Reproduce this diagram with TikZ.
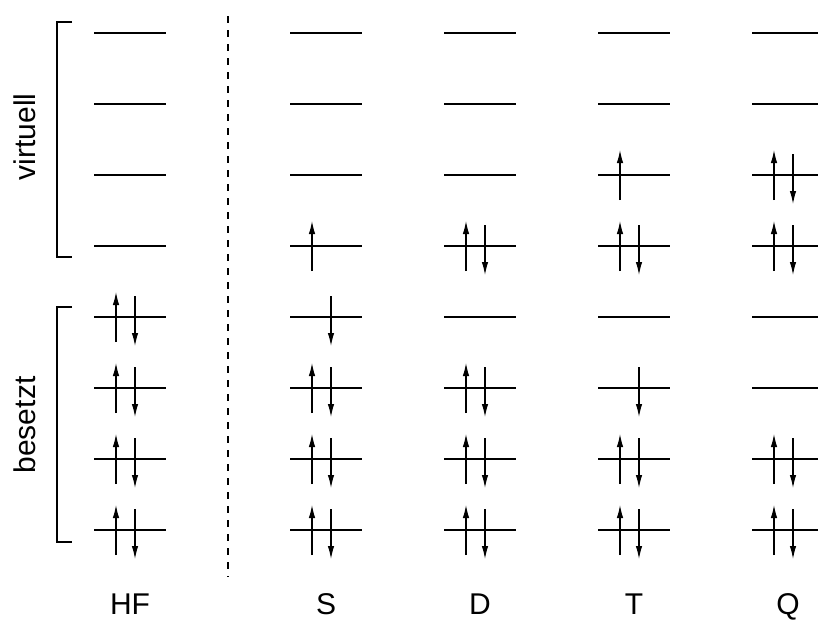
\documentclass[tikz,border=0pt]{standalone}
\usepackage{fontspec}
\setmainfont{Liberation Sans}
\usetikzlibrary{arrows.meta,calc}

% electron arrows at a level coordinate
\newcommand{\elup}[1]{\draw[spinup] ($(#1)+(-14,25)$) -- ($(#1)+(-14,-25)$);}
\newcommand{\eldown}[1]{\draw[spindown] ($(#1)+(5,-21)$) -- ($(#1)+(5,29)$);}

\begin{document}
\begin{tikzpicture}[
    x=1pt, y=-1pt,
    level/.style={line width=2pt},
    spinup/.style={-{Latex[length=13pt,width=6.5pt]}, line width=1.2pt},
    spindown/.style={-{Latex[length=13pt,width=6.5pt]}, line width=1.2pt},
    bracket/.style={line width=1.2pt},
    divider/.style={line width=2pt, dash pattern=on 7pt off 7pt},
    label/.style={font=\fontsize{30}{36}\selectfont, anchor=base, inner sep=0pt}
]

\useasboundingbox (0,0) rectangle (818,621);

% Level positions
\foreach \col/\x in {hf/130, s/326, d/480, t/634, q/788}{
    \foreach \i in {1,...,8}{
        \coordinate (\col-\i) at (\x, 601-71*\i);
        \draw[level] ($(\col-\i)+(-36,0)$) -- ($(\col-\i)+(36,0)$);
    }
}

% Doubly occupied levels
\foreach \lv in {hf-1, hf-2, hf-3, hf-4, s-1, s-2, s-3, d-1, d-2, d-3, d-5,
                 t-1, t-2, t-5, q-1, q-2, q-5, q-6}{
    \elup{\lv}
    \eldown{\lv}
}

% Singly occupied levels
\elup{s-5}
\elup{t-6}
\eldown{s-4}
\eldown{t-3}

% Brackets
\draw[bracket] ($(hf-8)+(-58,-11)$) -- ($(hf-8)+(-73,-11)$) -- ($(hf-5)+(-73,11)$) -- ($(hf-5)+(-58,11)$);
\draw[bracket] ($(hf-4)+(-58,-10)$) -- ($(hf-4)+(-73,-10)$) -- ($(hf-1)+(-73,12)$) -- ($(hf-1)+(-58,12)$);

\node[label, rotate=90] (virt) at (35,137) {virtuell};
\node[label, rotate=90] (occ) at (35,425) {besetzt};

% Divider, halfway between HF and S
\coordinate (divtop) at ($(hf-8)!0.5!(s-8)+(0,-17)$);
\coordinate (divbot) at ($(hf-1)!0.5!(s-1)+(0,47)$);
\draw[divider] (divtop) -- (divbot);

% Column labels
\node[label] (lbl-hf) at (130,614) {HF};
\node[label] (lbl-s) at (326,614) {S};
\node[label] (lbl-d) at (480,614) {D};
\node[label] (lbl-t) at (634,614) {T};
\node[label] (lbl-q) at (788,614) {Q};

\end{tikzpicture}
\end{document}
